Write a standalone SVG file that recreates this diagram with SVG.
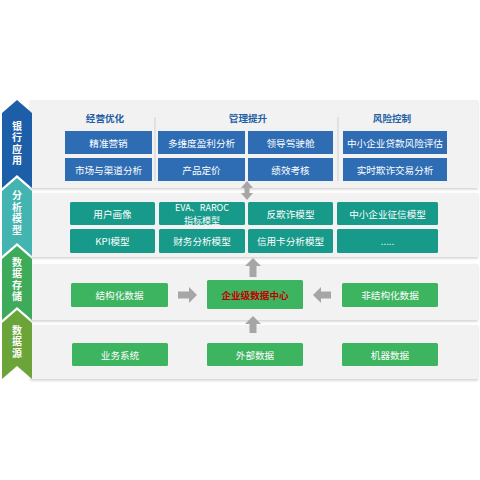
<svg xmlns="http://www.w3.org/2000/svg" width="480" height="480" viewBox="0 0 480 480">
<defs>
<filter id="sh" x="-5%" y="-10%" width="110%" height="130%">
<feDropShadow dx="0" dy="1.5" stdDeviation="1.2" flood-color="#000" flood-opacity="0.18"/>
</filter>
<style>
.panel{fill:#f2f2f2;filter:url(#sh)}
.blue{fill:#2e6db4}
.teal{fill:#179a8a}
.green{fill:#3db45f}
.t{font-family:"Noto Sans CJK SC","Liberation Sans",sans-serif;font-size:9.6px;fill:#fff;text-anchor:middle;dominant-baseline:central}
.h{font-family:"Noto Sans CJK SC","Liberation Sans",sans-serif;font-size:9.6px;font-weight:bold;fill:#1f5fa6;text-anchor:middle;dominant-baseline:central}
.b{font-family:"Noto Sans CJK SC","Liberation Sans",sans-serif;font-size:10px;font-weight:bold;fill:#fff;text-anchor:middle;dominant-baseline:central;writing-mode:vertical-rl;letter-spacing:1.5px}
.arr{fill:#a6a6a6}
.sep{stroke:#d0d0d0;stroke-width:1}
</style>
</defs>
<rect width="480" height="480" fill="#fff"/>
<g id="panels">
<rect class="panel" x="30" y="100" width="448" height="88"/>
<rect class="panel" x="30" y="193" width="448" height="64"/>
<rect class="panel" x="30" y="264" width="448" height="56"/>
<rect class="panel" x="30" y="325" width="448" height="54"/>
<line class="sep" x1="155" y1="117" x2="155" y2="181"/>
<line class="sep" x1="338" y1="117" x2="338" y2="181"/>
</g>
<g id="banner-bank">
<path d="M17,100 L32,113 L32,188 L17,175 L2,188 L2,113 Z" fill="#1d5ea8"/>
<text class="b" x="17" y="144">银行应用</text>
</g>
<g id="banner-model">
<path d="M17,178 L32,191 L32,256 L17,243 L2,256 L2,191 Z" fill="#43b4af"/>
<text class="b" x="17" y="213.5">分析模型</text>
</g>
<g id="banner-storage">
<path d="M17,246 L32,259 L32,320 L17,307 L2,320 L2,259 Z" fill="#3eab5b"/>
<text class="b" x="17" y="280">数据存储</text>
</g>
<g id="banner-source">
<path d="M17,310 L32,323 L32,379 L17,366 L2,379 L2,323 Z" fill="#6ba53a"/>
<text class="b" x="17" y="342">数据源</text>
</g>
<g id="headings">
<text class="h" x="105" y="118">经营优化</text>
<text class="h" x="248" y="118">管理提升</text>
<text class="h" x="392" y="118">风险控制</text>
</g>
<g id="n-jzyx"><rect class="blue" x="65" y="131" width="87" height="23"/><text class="t" x="108.5" y="142.5">精准营销</text></g>
<g id="n-scqd"><rect class="blue" x="65" y="158" width="87" height="23"/><text class="t" x="108.5" y="169.5">市场与渠道分析</text></g>
<g id="n-dwd"><rect class="blue" x="158" y="131" width="87" height="23"/><text class="t" x="201.5" y="142.5">多维度盈利分析</text></g>
<g id="n-ldjsc"><rect class="blue" x="248" y="131" width="85" height="23"/><text class="t" x="290.5" y="142.5">领导驾驶舱</text></g>
<g id="n-cpdj"><rect class="blue" x="158" y="158" width="87" height="23"/><text class="t" x="201.5" y="169.5">产品定价</text></g>
<g id="n-jxkh"><rect class="blue" x="248" y="158" width="85" height="23"/><text class="t" x="290.5" y="169.5">绩效考核</text></g>
<g id="n-zxqy"><rect class="blue" x="343" y="131" width="104" height="23"/><text class="t" x="395" y="142.5">中小企业贷款风险评估</text></g>
<g id="n-ssqz"><rect class="blue" x="343" y="158" width="104" height="23"/><text class="t" x="395" y="169.5">实时欺诈交易分析</text></g>
<g id="n-yhhx"><rect class="teal" x="70" y="202" width="85" height="23" rx="1.5"/><text class="t" x="112.5" y="213.5">用户画像</text></g>
<g id="n-kpi"><rect class="teal" x="70" y="229" width="85" height="24" rx="1.5"/><text class="t" x="112.5" y="241">KPI模型</text></g>
<g id="n-eva"><rect class="teal" x="159" y="202" width="86" height="23" rx="1.5"/><text class="t" x="202" y="207.5" style="font-size:9px">EVA、RAROC</text><text class="t" x="202" y="220" style="font-size:9px">指标模型</text></g>
<g id="n-cwfx"><rect class="teal" x="159" y="229" width="86" height="24" rx="1.5"/><text class="t" x="202" y="241">财务分析模型</text></g>
<g id="n-fqz"><rect class="teal" x="248" y="202" width="85" height="23" rx="1.5"/><text class="t" x="290.5" y="213.5">反欺诈模型</text></g>
<g id="n-xyk"><rect class="teal" x="248" y="229" width="85" height="24" rx="1.5"/><text class="t" x="290.5" y="241">信用卡分析模型</text></g>
<g id="n-zxzx"><rect class="teal" x="337" y="202" width="101" height="23" rx="1.5"/><text class="t" x="387.5" y="213.5">中小企业征信模型</text></g>
<g id="n-more"><rect class="teal" x="337" y="229" width="101" height="24" rx="1.5"/><text class="t" x="387.5" y="241">.....</text></g>
<g id="n-jghsj"><rect class="green" x="71" y="283" width="97" height="24" rx="1.5"/><text class="t" x="119.5" y="295">结构化数据</text></g>
<g id="n-qyj"><rect class="green" x="207" y="280" width="96" height="29" rx="1.5"/><text class="t" x="255" y="294.5" style="fill:#c00000;font-weight:bold">企业级数据中心</text></g>
<g id="n-fjg"><rect class="green" x="342" y="283" width="96" height="24" rx="1.5"/><text class="t" x="390" y="295">非结构化数据</text></g>
<g id="n-ywxt"><rect class="green" x="72" y="343" width="96" height="23" rx="1.5"/><text class="t" x="120" y="354.5">业务系统</text></g>
<g id="n-wbsj"><rect class="green" x="207" y="343" width="96" height="23" rx="1.5"/><text class="t" x="255" y="354.5">外部数据</text></g>
<g id="n-jqsj"><rect class="green" x="342" y="343" width="96" height="23" rx="1.5"/><text class="t" x="390" y="354.5">机器数据</text></g>
<g id="connectors">
<path class="arr" d="M247,181 L253,188 L249.5,188 L249.5,193 L253,193 L247,200 L241,193 L244.5,193 L244.5,188 L241,188 Z"/>
<path class="arr" d="M253,258 L261,266 L256.5,266 L256.5,277 L249.5,277 L249.5,266 L245,266 Z"/>
<path class="arr" d="M253,316 L261,324 L256.5,324 L256.5,333 L249.5,333 L249.5,324 L245,324 Z"/>
<path class="arr" d="M197,295 L189,287 L189,291.5 L178,291.5 L178,298.5 L189,298.5 L189,303 Z"/>
<path class="arr" d="M313,295 L321,287 L321,291.5 L331,291.5 L331,298.5 L321,298.5 L321,303 Z"/>
</g>
</svg>
